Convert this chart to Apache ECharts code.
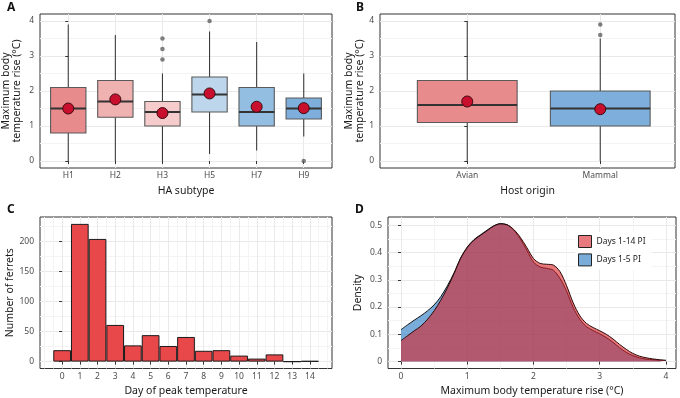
<!DOCTYPE html>
<html><head><meta charset="utf-8">
<script src="https://cdn.jsdelivr.net/npm/echarts@6/dist/echarts.min.js"></script>
<style>html,body{margin:0;padding:0;background:#fff}#c{width:680px;height:398px}</style>
</head><body><div id="c"></div>
<script>
// ---------- Panel A: HA subtype boxplots ----------
const subtypes = ['H1', 'H2', 'H3', 'H5', 'H7', 'H9'];
const subtypeMin = [0, 0, 0, 0.2, 0.3, 0.7];
const subtypeQ1 = [0.8, 1.25, 1.0, 1.4, 1.0, 1.2];
const subtypeMedian = [1.5, 1.7, 1.4, 1.9, 1.4, 1.5];
const subtypeQ3 = [2.1, 2.3, 1.7, 2.4, 2.1, 1.8];
const subtypeMax = [3.9, 3.6, 2.5, 3.7, 3.4, 2.5];
const subtypeMean = [1.5, 1.76, 1.37, 1.93, 1.55, 1.51];
const subtypeOutliers = [['H3', 3.5], ['H3', 3.2], ['H3', 2.9], ['H5', 4.0], ['H9', 0]];

// ---------- Panel B: host origin boxplots ----------
const hostOrigins = ['Avian', 'Mammal'];
const hostMin = [0, 0];
const hostQ1 = [1.1, 1.0];
const hostMedian = [1.6, 1.5];
const hostQ3 = [2.3, 2.0];
const hostMax = [4.0, 3.5];
const hostMean = [1.7, 1.48];
const hostOutliers = [['Mammal', 3.6], ['Mammal', 3.9]];

// ---------- Panel C: histogram ----------
const peakDays = [0, 1, 2, 3, 4, 5, 6, 7, 8, 9, 10, 11, 12, 13, 14];
const ferretCounts = [19, 229, 204, 61, 27, 44, 26, 41, 18, 19, 10, 5, 12, 0, 1];

// ---------- Panel D: densities ----------
const densityX = [0, 0.1, 0.2, 0.3, 0.4, 0.5, 0.6, 0.7, 0.8, 0.9, 1.0, 1.1, 1.2, 1.3, 1.4, 1.5, 1.6, 1.7, 1.8, 1.9, 2.0,
  2.1, 2.2, 2.3, 2.4, 2.5, 2.6, 2.7, 2.8, 2.9, 3.0, 3.1, 3.2, 3.3, 3.4, 3.5, 3.6, 3.7, 3.8, 3.9, 4.0];
const density14 = [0.077, 0.095, 0.113, 0.130, 0.155, 0.186, 0.225, 0.270, 0.322, 0.378, 0.418, 0.445, 0.463, 0.480, 0.497, 0.505,
  0.502, 0.485, 0.456, 0.418, 0.378, 0.360, 0.357, 0.354, 0.330, 0.278, 0.215, 0.168, 0.140, 0.125, 0.113, 0.100, 0.083, 0.063,
  0.045, 0.030, 0.020, 0.014, 0.010, 0.007, 0.005];
const density5 = [0.117, 0.135, 0.152, 0.168, 0.186, 0.208, 0.238, 0.278, 0.325, 0.380, 0.420, 0.447, 0.465, 0.482, 0.498, 0.506,
  0.502, 0.483, 0.450, 0.408, 0.365, 0.347, 0.342, 0.335, 0.305, 0.258, 0.198, 0.155, 0.128, 0.114, 0.102, 0.088, 0.071, 0.051,
  0.034, 0.022, 0.014, 0.009, 0.007, 0.005, 0.004];
const densityNames = ['Days 1-14 PI', 'Days 1-5 PI'];

// ---------- tick labels ----------
const boxYTicks = [0, 1, 2, 3, 4];
const boxYMinor = [0.5, 1.5, 2.5, 3.5];
const histYTicks = [0, 50, 100, 150, 200];
const histYMinor = [25, 75, 125, 175, 225];
const histXMinor = [-1, -0.5, 0.5, 1.5, 2.5, 3.5, 4.5, 5.5, 6.5, 7.5, 8.5, 9.5, 10.5, 11.5, 12.5, 13.5, 14.5, 15];
const densXTicks = [0, 1, 2, 3, 4];
const densXMinor = [0.5, 1.5, 2.5, 3.5];
const densYTicks = [0, 0.1, 0.2, 0.3, 0.4, 0.5];
const densYMinor = [0.05, 0.15, 0.25, 0.35, 0.45];

// ---------- styles ----------
const FONT = '"Noto Sans", "DejaVu Sans", sans-serif';
const subtypeColors = ['#e88b8c', '#f0b1b1', '#f5cbcb', '#bdd6eb', '#93bee1', '#7eaedb'];
const hostColors = ['#e88b8c', '#7eaedb'];
const GRID_MAJOR = '#e9e9e9';
const GRID_MINOR = '#f4f4f4';

function mainX(gi, min, max, ticks, fmt, name, nameGap, margin) {
  return {
    type: 'value', gridIndex: gi, min: min, max: max,
    axisLine: { show: false },
    axisTick: { show: true, length: 3, customValues: ticks, lineStyle: { color: '#333', width: 1 } },
    axisLabel: { customValues: ticks, formatter: fmt, color: '#4d4d4d', fontSize: 8.5, fontFamily: FONT, margin: margin },
    splitLine: { show: true, lineStyle: { color: GRID_MAJOR, width: 1 } },
    name: name, nameLocation: 'middle', nameGap: nameGap,
    nameTextStyle: { color: '#1a1a1a', fontSize: 10.5, fontFamily: FONT }
  };
}
function mainY(gi, min, max, ticks, fmt, name, nameGap) {
  return {
    type: 'value', gridIndex: gi, min: min, max: max,
    axisLine: { show: false },
    axisTick: { show: true, length: 3, customValues: ticks, lineStyle: { color: '#333', width: 1 } },
    axisLabel: { customValues: ticks, formatter: fmt, color: '#4d4d4d', fontSize: 8.5, fontFamily: FONT, margin: 6 },
    splitLine: { show: true, lineStyle: { color: GRID_MAJOR, width: 1 } },
    name: name, nameLocation: 'middle', nameGap: nameGap, nameRotate: 90,
    nameTextStyle: { color: '#1a1a1a', fontSize: 10.5, fontFamily: FONT, lineHeight: 11 }
  };
}
function minorAxis(gi, min, max, ticks) {
  return {
    type: 'value', gridIndex: gi, min: min, max: max,
    axisLine: { show: false },
    axisTick: { show: false, customValues: ticks },
    axisLabel: { show: false, customValues: ticks },
    splitLine: { show: true, lineStyle: { color: GRID_MINOR, width: 1 } }
  };
}

function boxRender(colors) {
  return function (params, api) {
    const x = api.value(0);
    const pLo = api.coord([x, api.value(1)]);
    const pQ1 = api.coord([x, api.value(2)]);
    const pMed = api.coord([x, api.value(3)]);
    const pQ3 = api.coord([x, api.value(4)]);
    const pHi = api.coord([x, api.value(5)]);
    const w = api.size([0.75, 0])[0];
    return {
      type: 'group',
      children: [
        { type: 'line', shape: { x1: pLo[0], y1: pLo[1], x2: pQ1[0], y2: pQ1[1] }, style: { stroke: '#3d3d3d', lineWidth: 1.1 } },
        { type: 'line', shape: { x1: pQ3[0], y1: pQ3[1], x2: pHi[0], y2: pHi[1] }, style: { stroke: '#3d3d3d', lineWidth: 1.1 } },
        { type: 'rect', shape: { x: pQ1[0] - w / 2, y: pQ3[1], width: w, height: pQ1[1] - pQ3[1] },
          style: { fill: colors[params.dataIndex], stroke: '#5a5a5a', lineWidth: 1.1 } },
        { type: 'line', shape: { x1: pMed[0] - w / 2, y1: pMed[1], x2: pMed[0] + w / 2, y2: pMed[1] },
          style: { stroke: '#333', lineWidth: 2.2 } }
      ]
    };
  };
}

const subtypeBoxData = subtypes.map((s, i) => [i, subtypeMin[i], subtypeQ1[i], subtypeMedian[i], subtypeQ3[i], subtypeMax[i]]);
const hostBoxData = hostOrigins.map((s, i) => [i, hostMin[i], hostQ1[i], hostMedian[i], hostQ3[i], hostMax[i]]);

const chart = echarts.init(document.getElementById('c'), null, { renderer: 'canvas' });
chart.setOption({
  animation: false,
  backgroundColor: '#fff',
  textStyle: { fontFamily: FONT },
  title: [
    { text: 'A', left: 7, top: 2, padding: 0, textStyle: { fontSize: 12, fontWeight: 'bold', color: '#111', fontFamily: FONT } },
    { text: 'B', left: 356, top: 2, padding: 0, textStyle: { fontSize: 12, fontWeight: 'bold', color: '#111', fontFamily: FONT } },
    { text: 'C', left: 7, top: 204, padding: 0, textStyle: { fontSize: 12, fontWeight: 'bold', color: '#111', fontFamily: FONT } },
    { text: 'D', left: 355, top: 204, padding: 0, textStyle: { fontSize: 12, fontWeight: 'bold', color: '#111', fontFamily: FONT } }
  ],
  grid: [
    { left: 40, top: 14, width: 292, height: 154, show: true, borderColor: '#333', borderWidth: 1, backgroundColor: '#fff' },
    { left: 380, top: 14, width: 295, height: 154, show: true, borderColor: '#333', borderWidth: 1, backgroundColor: '#fff' },
    { left: 40, top: 217, width: 292, height: 153, show: true, borderColor: '#333', borderWidth: 1, backgroundColor: '#fff' },
    { left: 388, top: 217, width: 288, height: 153, show: true, borderColor: '#333', borderWidth: 1, backgroundColor: '#fff' }
  ],
  xAxis: [
    mainX(0, -0.6, 5.6, [0, 1, 2, 3, 4, 5], v => subtypes[Math.round(v)], 'HA subtype', 18, 3),
    mainX(1, -0.656, 1.562, [0, 1], v => hostOrigins[Math.round(v)], 'Host origin', 18, 3),
    mainX(2, -1.25, 15.25, peakDays, v => String(v), 'Day of peak temperature', 17.5, 4),
    mainX(3, -0.196, 4.151, densXTicks, v => String(v), 'Maximum body temperature rise (°C)', 17.5, 4),
    minorAxis(2, -1.25, 15.25, histXMinor),
    minorAxis(3, -0.196, 4.151, densXMinor)
  ],
  yAxis: [
    mainY(0, -0.2, 4.2, boxYTicks, v => String(v), 'Maximum body\ntemperature rise (°C)', 17),
    mainY(1, -0.2, 4.2, boxYTicks, v => String(v), 'Maximum body\ntemperature rise (°C)', 10),
    mainY(2, -11.45, 240.45, histYTicks, v => String(v), 'Number of ferrets', 24),
    mainY(3, -0.02525, 0.53025, densYTicks, v => (v === 0 ? '0' : v.toFixed(1)), 'Density', 24),
    minorAxis(0, -0.2, 4.2, boxYMinor),
    minorAxis(1, -0.2, 4.2, boxYMinor),
    minorAxis(2, -11.45, 240.45, histYMinor),
    minorAxis(3, -0.02525, 0.53025, densYMinor)
  ],
  legend: {
    orient: 'vertical', left: 575, top: 232,
    itemWidth: 13, itemHeight: 12, itemGap: 5.4,
    backgroundColor: '#fff', padding: [3, 6, 3, 3],
    icon: 'rect',
    textStyle: { fontSize: 8.5, color: '#1a1a1a', fontFamily: FONT },
    data: [
      { name: densityNames[0], itemStyle: { color: '#e87a7e', borderColor: '#222', borderWidth: 1 } },
      { name: densityNames[1], itemStyle: { color: '#79acd8', borderColor: '#222', borderWidth: 1 } }
    ]
  },
  series: [
    // Panel A
    { type: 'custom', xAxisIndex: 0, yAxisIndex: 0, renderItem: boxRender(subtypeColors),
      encode: { x: 0, y: [1, 2, 3, 4, 5] }, data: subtypeBoxData, z: 2 },
    { type: 'scatter', xAxisIndex: 0, yAxisIndex: 0, symbol: 'circle', symbolSize: 4.5,
      itemStyle: { color: '#5f5f5f' }, data: subtypeOutliers.map(o => [subtypes.indexOf(o[0]), o[1]]), z: 3 },
    { type: 'scatter', xAxisIndex: 0, yAxisIndex: 0, symbol: 'circle', symbolSize: 11,
      itemStyle: { color: '#c8102e', borderColor: '#3a0a10', borderWidth: 1, opacity: 1 },
      data: subtypes.map((s, i) => [i, subtypeMean[i]]), z: 4 },
    // Panel B
    { type: 'custom', xAxisIndex: 1, yAxisIndex: 1, renderItem: boxRender(hostColors),
      encode: { x: 0, y: [1, 2, 3, 4, 5] }, data: hostBoxData, z: 2 },
    { type: 'scatter', xAxisIndex: 1, yAxisIndex: 1, symbol: 'circle', symbolSize: 4.5,
      itemStyle: { color: '#5f5f5f' }, data: hostOutliers.map(o => [hostOrigins.indexOf(o[0]), o[1]]), z: 3 },
    { type: 'scatter', xAxisIndex: 1, yAxisIndex: 1, symbol: 'circle', symbolSize: 11,
      itemStyle: { color: '#c8102e', borderColor: '#3a0a10', borderWidth: 1, opacity: 1 },
      data: hostOrigins.map((s, i) => [i, hostMean[i]]), z: 4 },
    // Panel C
    { type: 'bar', xAxisIndex: 2, yAxisIndex: 2, barWidth: '100%',
      itemStyle: { color: '#e9484a', borderColor: '#1a1a1a', borderWidth: 1 },
      data: peakDays.map((d, i) => [d, ferretCounts[i]]), z: 2 },
    // Panel D
    { type: 'line', name: densityNames[1], xAxisIndex: 3, yAxisIndex: 3, smooth: 0.3, symbol: 'none',
      lineStyle: { color: '#111', width: 1 },
      itemStyle: { color: '#79acd8' },
      areaStyle: { color: 'rgb(32,117,192)', opacity: 0.6 },
      data: densityX.map((x, i) => [x, density5[i]]), z: 2 },
    { type: 'line', name: densityNames[0], xAxisIndex: 3, yAxisIndex: 3, smooth: 0.3, symbol: 'none',
      lineStyle: { color: '#2a0808', width: 1 },
      itemStyle: { color: '#e87a7e' },
      areaStyle: { color: 'rgb(217,33,40)', opacity: 0.6 },
      data: densityX.map((x, i) => [x, density14[i]]), z: 3 }
  ]
});
</script>
</body></html>
